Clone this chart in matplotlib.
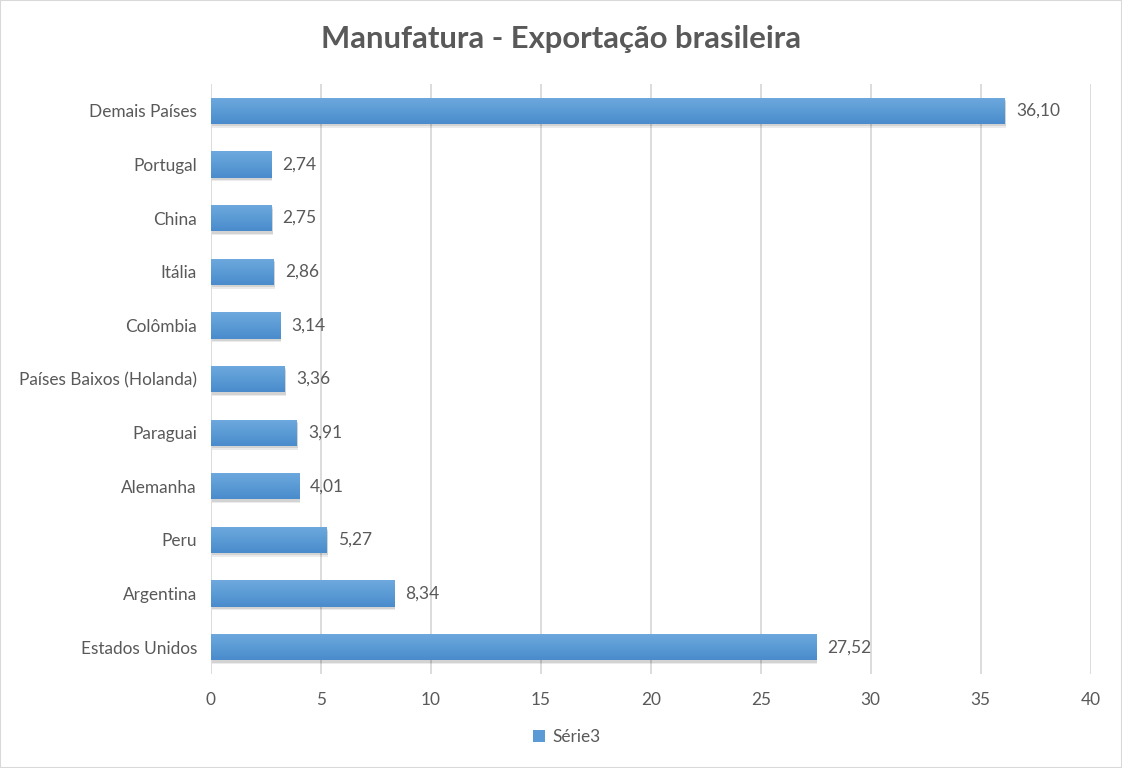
import matplotlib
matplotlib.use("Agg")
import matplotlib.pyplot as plt
import numpy as np
from matplotlib.patches import Rectangle

plt.rcParams["font.family"] = ["Lato", "DejaVu Sans"]

COUNTRIES = [
    "Demais Países", "Portugal", "China", "Itália", "Colômbia",
    "Países Baixos (Holanda)", "Paraguai", "Alemanha", "Peru",
    "Argentina", "Estados Unidos",
]
VALUES = [36.10, 2.74, 2.75, 2.86, 3.14, 3.36, 3.91, 4.01, 5.27, 8.34, 27.52]
SERIES_NAME = "Série3"
TITLE = "Manufatura - Exportação brasileira"
XTICKS = [0, 5, 10, 15, 20, 25, 30, 35, 40]

TEXT = "#595959"
BAR = "#5b9bd5"

fig = plt.figure(figsize=(11.22, 7.68), dpi=100)
fig.patches.append(Rectangle((0, 0), 1, 1, transform=fig.transFigure,
                             fill=False, edgecolor="#d9d9d9", lw=1.5))
ax = fig.add_axes([0.188, 0.1224, 0.784, 0.7682])

y = np.arange(len(COUNTRIES))[::-1]
h = 0.49

# soft drop shadow under each bar
for off, a in [(0.07, 0.08), (0.045, 0.10)]:
    ax.barh(y - off, VALUES, height=h, left=0.05, color="#000000", alpha=a,
            zorder=2, linewidth=0)
bars = ax.barh(y, VALUES, height=h, color=BAR, zorder=3, linewidth=0,
               label=SERIES_NAME)

# vertical gradient (lighter at top, darker at bottom)
grad = np.linspace(0, 1, 64).reshape(-1, 1)
cmap = matplotlib.colors.LinearSegmentedColormap.from_list(
    "g", ["#4a8bcc", "#5b9bd5", "#6ea9de"])
for b in bars:
    x0, y0 = b.get_x(), b.get_y()
    im = ax.imshow(grad, extent=(x0, x0 + b.get_width(), y0, y0 + b.get_height()),
                   origin="lower", aspect="auto", cmap=cmap, zorder=4)
    im.set_clip_path(b)

for yi, v in zip(y, VALUES):
    ax.text(v + 0.5, yi, f"{v:.2f}".replace(".", ","), va="center", ha="left",
            fontsize=12.5, color=TEXT, zorder=5)

ax.set_xlim(0, 40)
ax.set_ylim(-0.5, len(COUNTRIES) - 0.5)
ax.set_xticks(XTICKS)
ax.set_xticklabels([str(t) for t in XTICKS])
ax.set_yticks(y)
ax.set_yticklabels(COUNTRIES)
ax.tick_params(axis="both", length=0, labelsize=12.4, labelcolor=TEXT)
ax.tick_params(axis="x", pad=13)
ax.tick_params(axis="y", pad=10)
ax.grid(axis="x", color="#d9d9d9", lw=1.3, zorder=0)
ax.set_axisbelow(True)
for s in ax.spines.values():
    s.set_visible(False)

fig.suptitle(TITLE, y=0.968, fontsize=22.3, fontweight="bold", color=TEXT)

fig.legend(handles=[bars], labels=[SERIES_NAME], loc="center",
           bbox_to_anchor=(0.505, 0.04), frameon=False, fontsize=12.4,
           labelcolor=TEXT, handlelength=0.7, handleheight=0.7, handletextpad=0.4)

fig.savefig("out.png", dpi=100)
